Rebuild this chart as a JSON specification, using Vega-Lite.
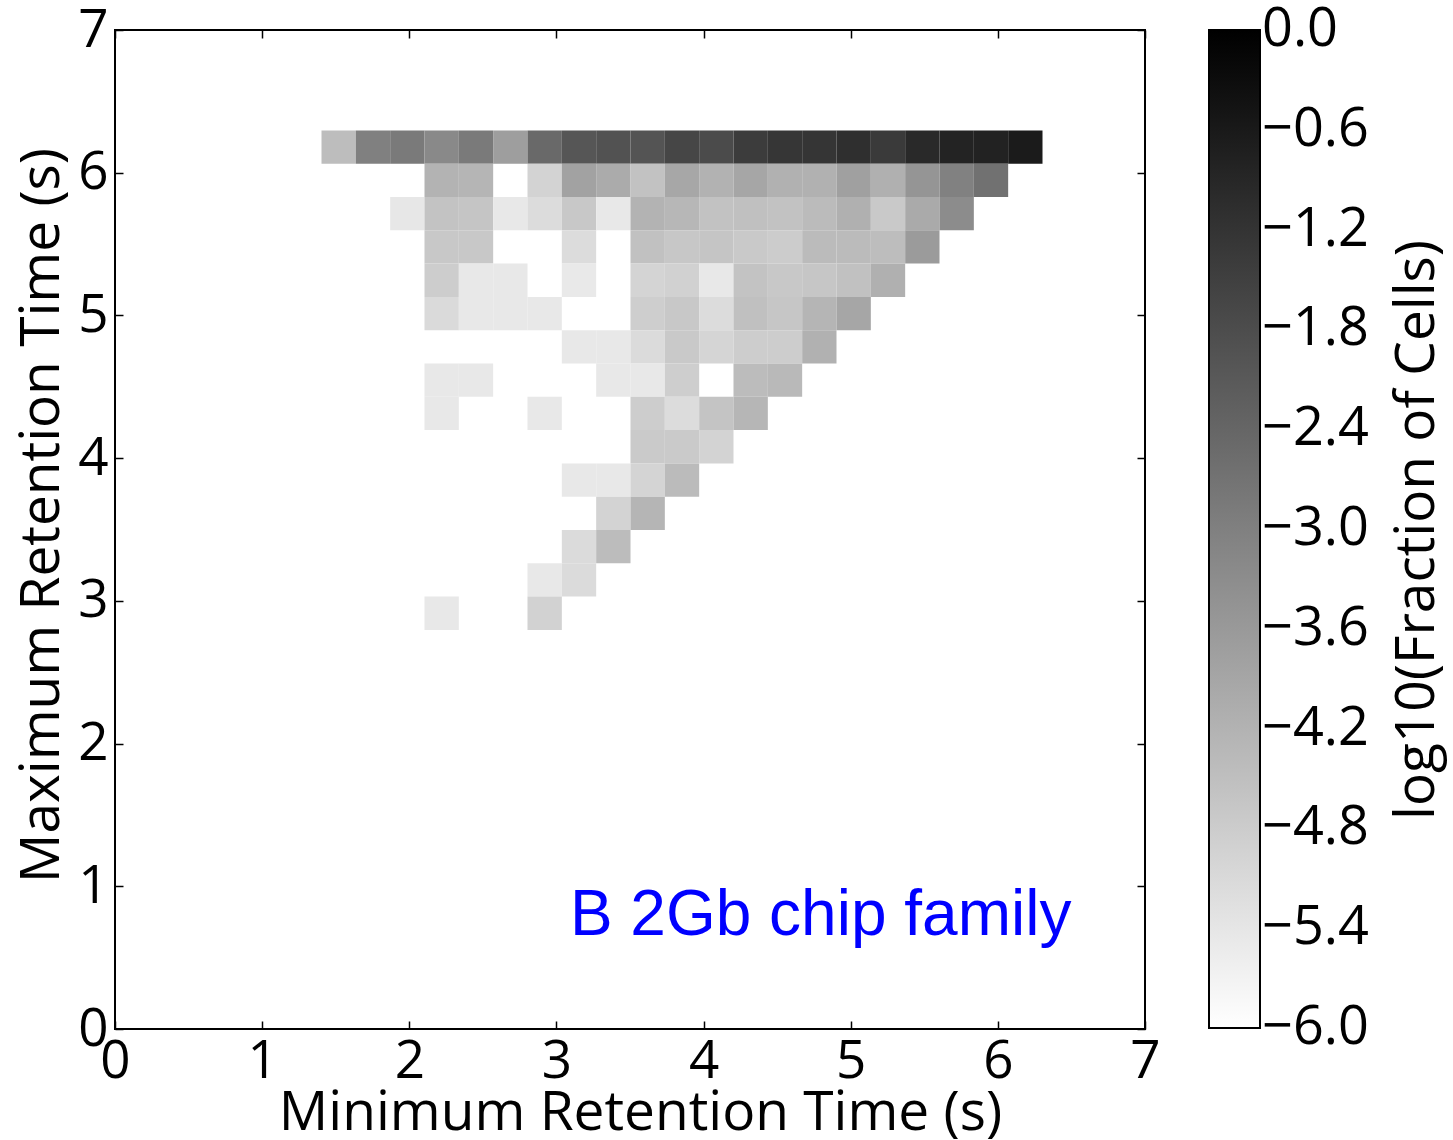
{
  "$schema": "https://vega.github.io/schema/vega-lite/v6.json",
  "width": 1030,
  "height": 999,
  "autosize": {"type": "none"},
  "padding": {"left": 115, "top": 30, "right": 308, "bottom": 111},
  "background": "white",
  "config": {
    "view": {"stroke": "black", "strokeWidth": 2},
    "font": "Open Sans",
    "axis": {
      "domain": false,
      "grid": false,
      "tickColor": "black",
      "tickWidth": 1.5,
      "tickSize": -8,
      "labelFont": "Open Sans",
      "labelFontSize": 53,
      "labelColor": "black",
      "titleFont": "Open Sans",
      "titleFontSize": 55,
      "titleFontWeight": "normal",
      "titleColor": "black"
    },
    "legend": {
      "orient": "none",
      "legendX": 1094,
      "legendY": 0,
      "padding": 0,
      "direction": "vertical",
      "gradientLength": 998,
      "gradientThickness": 51,
      "gradientStrokeColor": "black",
      "gradientStrokeWidth": 2,
      "labelFont": "Open Sans",
      "labelFontSize": 54,
      "labelColor": "black",
      "labelOffset": 8,
      "labelOverlap": false,
      "titleFont": "Open Sans",
      "titleFontSize": 55,
      "titleFontWeight": "normal",
      "titleColor": "black",
      "titleLimit": 1500
    }
  },
  "layer": [
    {
      "data": {
        "values": [
          {"minRet": 1.4, "maxRet": 6.0667, "logFrac": -4.45},
          {"minRet": 1.6333, "maxRet": 6.0667, "logFrac": -3.01},
          {"minRet": 1.8667, "maxRet": 6.0667, "logFrac": -2.87},
          {"minRet": 2.1, "maxRet": 6.0667, "logFrac": -3.22},
          {"minRet": 2.3333, "maxRet": 6.0667, "logFrac": -2.87},
          {"minRet": 2.5667, "maxRet": 6.0667, "logFrac": -3.72},
          {"minRet": 2.8, "maxRet": 6.0667, "logFrac": -2.47},
          {"minRet": 3.0333, "maxRet": 6.0667, "logFrac": -2.02},
          {"minRet": 3.2667, "maxRet": 6.0667, "logFrac": -1.93},
          {"minRet": 3.5, "maxRet": 6.0667, "logFrac": -1.98},
          {"minRet": 3.7333, "maxRet": 6.0667, "logFrac": -1.65},
          {"minRet": 3.9667, "maxRet": 6.0667, "logFrac": -1.76},
          {"minRet": 4.2, "maxRet": 6.0667, "logFrac": -1.41},
          {"minRet": 4.4333, "maxRet": 6.0667, "logFrac": -1.27},
          {"minRet": 4.6667, "maxRet": 6.0667, "logFrac": -1.25},
          {"minRet": 4.9, "maxRet": 6.0667, "logFrac": -1.11},
          {"minRet": 5.1333, "maxRet": 6.0667, "logFrac": -1.36},
          {"minRet": 5.3667, "maxRet": 6.0667, "logFrac": -0.96},
          {"minRet": 5.6, "maxRet": 6.0667, "logFrac": -0.82},
          {"minRet": 5.8333, "maxRet": 6.0667, "logFrac": -0.8},
          {"minRet": 6.0667, "maxRet": 6.0667, "logFrac": -0.64},

          {"minRet": 2.1, "maxRet": 5.8333, "logFrac": -4.21},
          {"minRet": 2.3333, "maxRet": 5.8333, "logFrac": -4.26},
          {"minRet": 2.8, "maxRet": 5.8333, "logFrac": -4.96},
          {"minRet": 3.0333, "maxRet": 5.8333, "logFrac": -3.81},
          {"minRet": 3.2667, "maxRet": 5.8333, "logFrac": -4.02},
          {"minRet": 3.5, "maxRet": 5.8333, "logFrac": -4.56},
          {"minRet": 3.7333, "maxRet": 5.8333, "logFrac": -3.93},
          {"minRet": 3.9667, "maxRet": 5.8333, "logFrac": -4.19},
          {"minRet": 4.2, "maxRet": 5.8333, "logFrac": -3.91},
          {"minRet": 4.4333, "maxRet": 5.8333, "logFrac": -4.16},
          {"minRet": 4.6667, "maxRet": 5.8333, "logFrac": -4.16},
          {"minRet": 4.9, "maxRet": 5.8333, "logFrac": -3.76},
          {"minRet": 5.1333, "maxRet": 5.8333, "logFrac": -4.14},
          {"minRet": 5.3667, "maxRet": 5.8333, "logFrac": -3.51},
          {"minRet": 5.6, "maxRet": 5.8333, "logFrac": -3.04},
          {"minRet": 5.8333, "maxRet": 5.8333, "logFrac": -2.66},

          {"minRet": 1.8667, "maxRet": 5.6, "logFrac": -5.44},
          {"minRet": 2.1, "maxRet": 5.6, "logFrac": -4.59},
          {"minRet": 2.3333, "maxRet": 5.6, "logFrac": -4.64},
          {"minRet": 2.5667, "maxRet": 5.6, "logFrac": -5.46},
          {"minRet": 2.8, "maxRet": 5.6, "logFrac": -5.18},
          {"minRet": 3.0333, "maxRet": 5.6, "logFrac": -4.71},
          {"minRet": 3.2667, "maxRet": 5.6, "logFrac": -5.46},
          {"minRet": 3.5, "maxRet": 5.6, "logFrac": -4.21},
          {"minRet": 3.7333, "maxRet": 5.6, "logFrac": -4.31},
          {"minRet": 3.9667, "maxRet": 5.6, "logFrac": -4.56},
          {"minRet": 4.2, "maxRet": 5.6, "logFrac": -4.52},
          {"minRet": 4.4333, "maxRet": 5.6, "logFrac": -4.56},
          {"minRet": 4.6667, "maxRet": 5.6, "logFrac": -4.4},
          {"minRet": 4.9, "maxRet": 5.6, "logFrac": -4.14},
          {"minRet": 5.1333, "maxRet": 5.6, "logFrac": -4.73},
          {"minRet": 5.3667, "maxRet": 5.6, "logFrac": -4.0},
          {"minRet": 5.6, "maxRet": 5.6, "logFrac": -3.29},

          {"minRet": 2.1, "maxRet": 5.3667, "logFrac": -4.71},
          {"minRet": 2.3333, "maxRet": 5.3667, "logFrac": -4.71},
          {"minRet": 3.0333, "maxRet": 5.3667, "logFrac": -5.18},
          {"minRet": 3.5, "maxRet": 5.3667, "logFrac": -4.54},
          {"minRet": 3.7333, "maxRet": 5.3667, "logFrac": -4.68},
          {"minRet": 3.9667, "maxRet": 5.3667, "logFrac": -4.64},
          {"minRet": 4.2, "maxRet": 5.3667, "logFrac": -4.73},
          {"minRet": 4.4333, "maxRet": 5.3667, "logFrac": -4.8},
          {"minRet": 4.6667, "maxRet": 5.3667, "logFrac": -4.4},
          {"minRet": 4.9, "maxRet": 5.3667, "logFrac": -4.4},
          {"minRet": 5.1333, "maxRet": 5.3667, "logFrac": -4.45},
          {"minRet": 5.3667, "maxRet": 5.3667, "logFrac": -3.65},

          {"minRet": 2.1, "maxRet": 5.1333, "logFrac": -4.82},
          {"minRet": 2.3333, "maxRet": 5.1333, "logFrac": -5.46},
          {"minRet": 2.5667, "maxRet": 5.1333, "logFrac": -5.46},
          {"minRet": 3.0333, "maxRet": 5.1333, "logFrac": -5.48},
          {"minRet": 3.5, "maxRet": 5.1333, "logFrac": -4.99},
          {"minRet": 3.7333, "maxRet": 5.1333, "logFrac": -4.92},
          {"minRet": 3.9667, "maxRet": 5.1333, "logFrac": -5.46},
          {"minRet": 4.2, "maxRet": 5.1333, "logFrac": -4.59},
          {"minRet": 4.4333, "maxRet": 5.1333, "logFrac": -4.71},
          {"minRet": 4.6667, "maxRet": 5.1333, "logFrac": -4.66},
          {"minRet": 4.9, "maxRet": 5.1333, "logFrac": -4.54},
          {"minRet": 5.1333, "maxRet": 5.1333, "logFrac": -4.14},

          {"minRet": 2.1, "maxRet": 4.9, "logFrac": -5.13},
          {"minRet": 2.3333, "maxRet": 4.9, "logFrac": -5.46},
          {"minRet": 2.5667, "maxRet": 4.9, "logFrac": -5.46},
          {"minRet": 2.8, "maxRet": 4.9, "logFrac": -5.46},
          {"minRet": 3.5, "maxRet": 4.9, "logFrac": -4.85},
          {"minRet": 3.7333, "maxRet": 4.9, "logFrac": -4.71},
          {"minRet": 3.9667, "maxRet": 4.9, "logFrac": -5.18},
          {"minRet": 4.2, "maxRet": 4.9, "logFrac": -4.52},
          {"minRet": 4.4333, "maxRet": 4.9, "logFrac": -4.66},
          {"minRet": 4.6667, "maxRet": 4.9, "logFrac": -4.26},
          {"minRet": 4.9, "maxRet": 4.9, "logFrac": -3.91},

          {"minRet": 3.0333, "maxRet": 4.6667, "logFrac": -5.46},
          {"minRet": 3.2667, "maxRet": 4.6667, "logFrac": -5.46},
          {"minRet": 3.5, "maxRet": 4.6667, "logFrac": -5.15},
          {"minRet": 3.7333, "maxRet": 4.6667, "logFrac": -4.73},
          {"minRet": 3.9667, "maxRet": 4.6667, "logFrac": -5.01},
          {"minRet": 4.2, "maxRet": 4.6667, "logFrac": -4.82},
          {"minRet": 4.4333, "maxRet": 4.6667, "logFrac": -4.82},
          {"minRet": 4.6667, "maxRet": 4.6667, "logFrac": -4.16},

          {"minRet": 2.1, "maxRet": 4.4333, "logFrac": -5.46},
          {"minRet": 2.3333, "maxRet": 4.4333, "logFrac": -5.46},
          {"minRet": 3.2667, "maxRet": 4.4333, "logFrac": -5.46},
          {"minRet": 3.5, "maxRet": 4.4333, "logFrac": -5.46},
          {"minRet": 3.7333, "maxRet": 4.4333, "logFrac": -4.85},
          {"minRet": 4.2, "maxRet": 4.4333, "logFrac": -4.42},
          {"minRet": 4.4333, "maxRet": 4.4333, "logFrac": -4.35},

          {"minRet": 2.1, "maxRet": 4.2, "logFrac": -5.46},
          {"minRet": 2.8, "maxRet": 4.2, "logFrac": -5.46},
          {"minRet": 3.5, "maxRet": 4.2, "logFrac": -4.82},
          {"minRet": 3.7333, "maxRet": 4.2, "logFrac": -5.18},
          {"minRet": 3.9667, "maxRet": 4.2, "logFrac": -4.61},
          {"minRet": 4.2, "maxRet": 4.2, "logFrac": -4.28},

          {"minRet": 3.5, "maxRet": 3.9667, "logFrac": -4.75},
          {"minRet": 3.7333, "maxRet": 3.9667, "logFrac": -4.75},
          {"minRet": 3.9667, "maxRet": 3.9667, "logFrac": -4.96},

          {"minRet": 3.0333, "maxRet": 3.7333, "logFrac": -5.46},
          {"minRet": 3.2667, "maxRet": 3.7333, "logFrac": -5.46},
          {"minRet": 3.5, "maxRet": 3.7333, "logFrac": -4.99},
          {"minRet": 3.7333, "maxRet": 3.7333, "logFrac": -4.4},

          {"minRet": 3.2667, "maxRet": 3.5, "logFrac": -4.96},
          {"minRet": 3.5, "maxRet": 3.5, "logFrac": -4.26},

          {"minRet": 3.0333, "maxRet": 3.2667, "logFrac": -5.15},
          {"minRet": 3.2667, "maxRet": 3.2667, "logFrac": -4.42},

          {"minRet": 2.8, "maxRet": 3.0333, "logFrac": -5.46},
          {"minRet": 3.0333, "maxRet": 3.0333, "logFrac": -5.15},

          {"minRet": 2.1, "maxRet": 2.8, "logFrac": -5.46},
          {"minRet": 2.8, "maxRet": 2.8, "logFrac": -4.94}
        ]
      },
      "mark": {"type": "rect", "strokeWidth": 0},
      "encoding": {
        "x": {
          "field": "minRet",
          "type": "quantitative",
          "bin": {"binned": true, "step": 0.233333},
          "scale": {"domain": [0, 7], "nice": false, "zero": false},
          "axis": {
            "orient": "bottom",
            "values": [0, 1, 2, 3, 4, 5, 6, 7],
            "format": "d",
            "labelPadding": 14,
            "labelFlush": false,
            "title": "Minimum Retention Time (s)",
            "titleX": 525,
            "titleY": 100,
            "titleBaseline": "alphabetic"
          }
        },
        "y": {
          "field": "maxRet",
          "type": "quantitative",
          "bin": {"binned": true, "step": 0.233333},
          "scale": {"domain": [0, 7], "nice": false, "zero": false},
          "axis": {
            "orient": "left",
            "values": [0, 1, 2, 3, 4, 5, 6, 7],
            "format": "d",
            "labelPadding": 15,
            "labelFlush": false,
            "title": "Maximum Retention Time (s)",
            "titleX": -57,
            "titleY": 485,
            "titleAngle": 270,
            "titleBaseline": "alphabetic"
          }
        },
        "color": {
          "field": "logFrac",
          "type": "quantitative",
          "scale": {"domain": [-6, 0], "range": ["#ffffff", "#000000"], "interpolate": "rgb", "clamp": true},
          "legend": {
            "title": "log10(Fraction of Cells)",
            "values": [0, -0.6, -1.2, -1.8, -2.4, -3.0, -3.6, -4.2, -4.8, -5.4, -6.0],
            "format": ".1f",
            "titleOrient": "right",
            "titleAnchor": "middle",
            "titleBaseline": "top",
            "titlePadding": 22,
            "titleLimit": 1500,
            "encode": {
              "labels": {"update": {"baseline": {"value": "middle"}}},
              "title": {"update": {"angle": {"value": 270}, "baseline": {"value": "top"}}}
            }
          }
        }
      }
    },
    {
      "data": {"values": [{"label": "B 2Gb chip family"}]},
      "mark": {"type": "text", "align": "right", "baseline": "alphabetic", "font": "Liberation Sans", "fontSize": 64, "color": "#0000ff"},
      "encoding": {
        "text": {"field": "label"},
        "x": {"datum": 6.5, "type": "quantitative", "axis": {"orient": "top", "values": [0, 1, 2, 3, 4, 5, 6, 7], "labels": false, "title": null}},
        "y": {"datum": 0.66, "type": "quantitative", "axis": {"orient": "right", "values": [0, 1, 2, 3, 4, 5, 6, 7], "labels": false, "title": null}}
      }
    }
  ],
  "resolve": {"axis": {"x": "independent", "y": "independent"}}
}
